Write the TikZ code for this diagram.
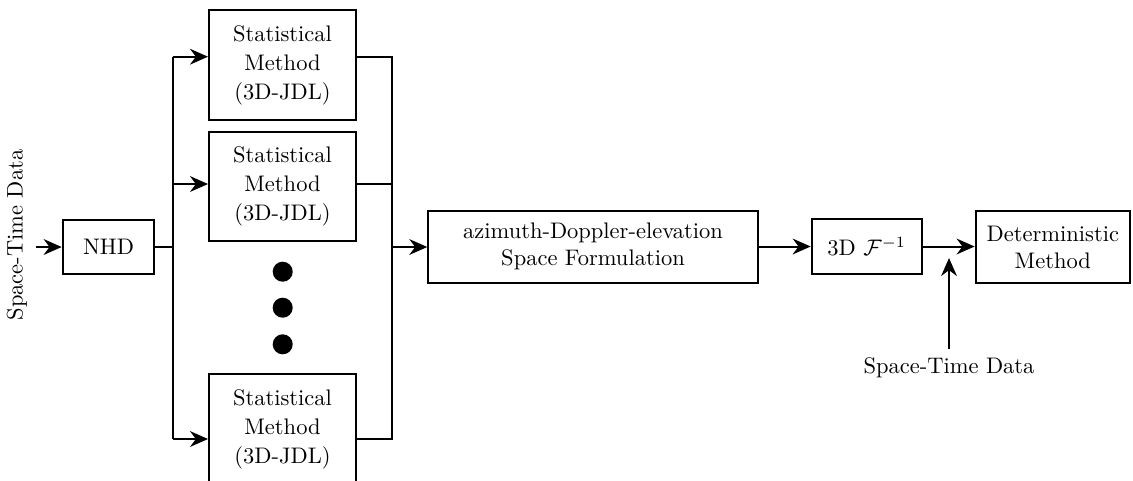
\documentclass[tikz,border=0pt]{standalone}
\usetikzlibrary{arrows.meta}
\begin{document}
\begin{tikzpicture}[x=0.44444pt,y=-0.44444pt,
  every path/.style={line width=0.9pt},
  box/.style={draw,line width=0.9pt,align=center,inner sep=1pt},
  stat/.style={box,minimum width=65.3pt,minimum height=48.5pt,font=\fontsize{10}{12.9}\selectfont},
  dot/.style={circle,fill=black,inner sep=0pt,minimum size=8.9pt},
  arr/.style={-{Stealth[length=8pt,width=7pt]},line width=0.9pt},
  ln/.style={line width=0.9pt}]
\useasboundingbox (0,0) rectangle (1133,480);
% nodes
\node[rotate=90] (inL) at (17,235) {Space-Time Data};
\node[box,minimum width=40.7pt,minimum height=24.4pt] (nhd) at (108.5,247) {NHD};
\node[stat] (s1) at (282.5,65) {Statistical\\Method\\(3D-JDL)};
\node[stat] (s2) at (282.5,186.3) {Statistical\\Method\\(3D-JDL)};
\node[stat] (s3) at (282.5,428.9) {Statistical\\Method\\(3D-JDL)};
\node[dot] (d1) at (282.7,271.7) {};
\node[dot] (d2) at (282.7,307.7) {};
\node[dot] (d3) at (282.7,344.3) {};
\node[box,minimum width=146.4pt,minimum height=32pt] (ade) at (593,246.7) {azimuth-Doppler-elevation\\Space Formulation};
\node[box,minimum width=48.9pt,minimum height=24.4pt] (finv) at (866.7,246.5) {3D $\mathcal{F}^{-1}$};
\node[box,minimum width=68.6pt,minimum height=32.3pt] (det) at (1052.8,247) {Deterministic\\Method};
\node (inB) at (949,368) {Space-Time Data};
% coordinates
\coordinate (start) at (36,247);
\coordinate (lb) at (172.7,247);
\coordinate (l1) at (172.7,56.7);
\coordinate (l2) at (172.7,184);
\coordinate (l3) at (172.7,439);
\coordinate (r1) at (391.7,56.7);
\coordinate (r2) at (391.7,184);
\coordinate (r3) at (391.7,439);
\coordinate (rb) at (391.7,247);
\coordinate (up) at (949,258);
% connectors
\draw[arr] (start) -- (nhd.west);
\draw[ln] (nhd.east) -- (lb);
\draw[ln] (l1) -- (l3);
\draw[arr] (l1) -- (l1 -| s1.west);
\draw[arr] (l2) -- (l2 -| s2.west);
\draw[arr] (l3) -- (l3 -| s3.west);
\draw[ln] (r1 -| s1.east) -- (r1) -- (r3) -- (r3 -| s3.east);
\draw[ln] (r2 -| s2.east) -- (r2);
\draw[arr] (rb) -- (rb -| ade.west);
\draw[arr] (ade.east |- finv.west) -- (finv.west);
\draw[arr] (finv.east) -- (finv.east -| det.west);
\draw[arr] (inB.north) -- (up);
\end{tikzpicture}
\end{document}
